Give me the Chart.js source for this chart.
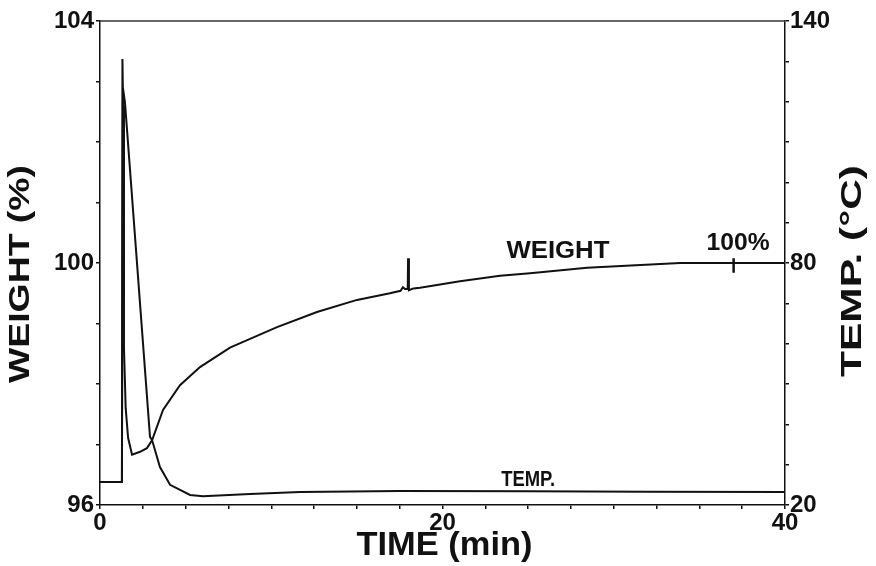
<!DOCTYPE html>
<html>
<head>
<meta charset="utf-8">
<script src="https://cdn.jsdelivr.net/npm/chart.js@4.4.1/dist/chart.umd.min.js"></script>
<style>
  html, body { margin: 0; padding: 0; background: #fff; }
  #c { display: block; }
</style>
</head>
<body>
<canvas id="c" width="876" height="566"></canvas>
<script>
// Thermogravimetric run: sample weight (%) and furnace temperature (°C) against time (min)
const weightTime = [0, 1.28, 1.31, 1.35, 1.40, 1.50, 1.64, 1.87, 2.34, 2.74, 3.04, 3.68, 4.67, 5.84, 7.59, 10.34, 12.67, 15.01, 16.93, 17.55, 17.69, 17.81, 17.97, 17.99, 18.04, 18.3, 18.69, 21.02, 23.36, 25.11, 28.44, 31.0, 33.87, 37.0, 40];
const weightPct  = [96.38, 96.38, 103.37, 102.6, 98.6, 97.6, 97.11, 96.83, 96.88, 96.94, 97.07, 97.57, 97.98, 98.28, 98.60, 98.94, 99.19, 99.39, 99.50, 99.54, 99.60, 99.57, 99.57, 100.08, 99.55, 99.58, 99.59, 99.70, 99.79, 99.83, 99.92, 99.96, 100.0, 100.0, 100.0];

const tempTime = [0, 1.28, 1.34, 1.46, 2.92, 3.04, 3.50, 4.09, 5.26, 6.01, 8.76, 11.68, 17.52, 25, 32, 40];
const tempC    = [25.7, 25.7, 123.4, 119.7, 36.9, 36.1, 29.4, 25.0, 22.5, 22.2, 22.7, 23.2, 23.5, 23.4, 23.3, 23.2];

// Short vertical mark where the weight reaches 100 %
const fullMarkTime = [37.0, 37.0];
const fullMarkPct  = [100.08, 99.84];

// Axis ranges and labelled ticks
const timeRange = [0, 40],   timeStep = 2.5, timeTickLabels = [0, 20, 40];
const weightRange = [96, 104], weightStep = 1, weightTickLabels = [96, 100, 104];
const tempRange = [20, 140], tempStep = 10, tempTickLabels = [20, 80, 140];

const toPoints = (xs, ys) => xs.map((x, i) => ({ x: x, y: ys[i] }));

const INK = '#111';
const FONT = '"Liberation Sans", Arial, sans-serif';
const tickFont = { family: FONT, weight: 'bold', size: 24 };

function axisCommon() {
  return {
    grid: { display: true, drawOnChartArea: false, drawTicks: true, tickLength: 4, color: INK, lineWidth: 1.5 },
    border: { display: true, color: INK, width: 1.5 },
  };
}

// Draws bold text stretched horizontally to a given length
function fittedText(ctx, text, cx, cy, size, length, angle) {
  ctx.save();
  ctx.translate(cx, cy);
  ctx.rotate(angle || 0);
  ctx.font = 'bold ' + size + 'px ' + FONT;
  const w = ctx.measureText(text).width;
  ctx.scale(length / w, 1);
  ctx.textAlign = 'center';
  ctx.textBaseline = 'middle';
  ctx.fillStyle = INK;
  ctx.fillText(text, 0, 0);
  ctx.restore();
}

const decorations = {
  id: 'decorations',
  afterDraw(chart) {
    const { ctx, chartArea: a, scales } = chart;
    // frame top edge
    ctx.save();
    ctx.strokeStyle = '#333';
    ctx.lineWidth = 1.5;
    ctx.beginPath();
    ctx.moveTo(a.left, a.top);
    ctx.lineTo(a.right, a.top);
    ctx.stroke();
    ctx.restore();

    const x = scales.x, y = scales.y, y1 = scales.y1;
    // curve labels
    fittedText(ctx, 'WEIGHT', x.getPixelForValue(26.74), y.getPixelForValue(100.2), 24, 103);
    fittedText(ctx, '100%', x.getPixelForValue(37.26), y.getPixelForValue(100.33), 24, 63);
    fittedText(ctx, 'TEMP.', x.getPixelForValue(25.0), y1.getPixelForValue(26.2), 22, 54);

    // axis titles
    fittedText(ctx, 'TIME (min)', (a.left + a.right) / 2 + 2, 546, 34, 176);
    fittedText(ctx, 'WEIGHT (%)', 21, 274, 30, 218, -Math.PI / 2);
    fittedText(ctx, 'TEMP. (°C)', 853, 271, 29, 212, -Math.PI / 2);
  }
};

new Chart(document.getElementById('c'), {
  type: 'line',
  data: {
    datasets: [
      { label: 'Weight', data: toPoints(weightTime, weightPct), yAxisID: 'y',
        borderColor: INK, borderWidth: 2, pointRadius: 0, tension: 0, fill: false },
      { label: 'Temperature', data: toPoints(tempTime, tempC), yAxisID: 'y1',
        borderColor: INK, borderWidth: 2, pointRadius: 0, tension: 0, fill: false },
      { label: '100%', data: toPoints(fullMarkTime, fullMarkPct), yAxisID: 'y',
        borderColor: INK, borderWidth: 2.5, pointRadius: 0, tension: 0, fill: false }
    ]
  },
  options: {
    responsive: false,
    animation: false,
    devicePixelRatio: 1,
    layout: { padding: { top: 21, left: 0, right: 0, bottom: 0 } },
    plugins: { legend: { display: false }, tooltip: { enabled: false } },
    scales: {
      x: Object.assign(axisCommon(), {
        type: 'linear', min: timeRange[0], max: timeRange[1],
        afterFit: s => { s.height = 61; },
        ticks: { stepSize: timeStep, autoSkip: false, maxRotation: 0, padding: 0,
                 color: INK, font: tickFont,
                 callback: v => timeTickLabels.includes(v) ? String(v) : '' }
      }),
      y: Object.assign(axisCommon(), {
        type: 'linear', position: 'left', min: weightRange[0], max: weightRange[1],
        afterFit: s => { s.width = 100; },
        ticks: { stepSize: weightStep, autoSkip: false, padding: 2,
                 color: INK, font: tickFont,
                 callback: v => weightTickLabels.includes(v) ? String(v) : '' }
      }),
      y1: Object.assign(axisCommon(), {
        type: 'linear', position: 'right', min: tempRange[0], max: tempRange[1],
        afterFit: s => { s.width = 91; },
        ticks: { stepSize: tempStep, autoSkip: false, padding: 1,
                 color: INK, font: tickFont,
                 callback: v => tempTickLabels.includes(v) ? String(v) : '' }
      })
    }
  },
  plugins: [decorations]
});
</script>
</body>
</html>
